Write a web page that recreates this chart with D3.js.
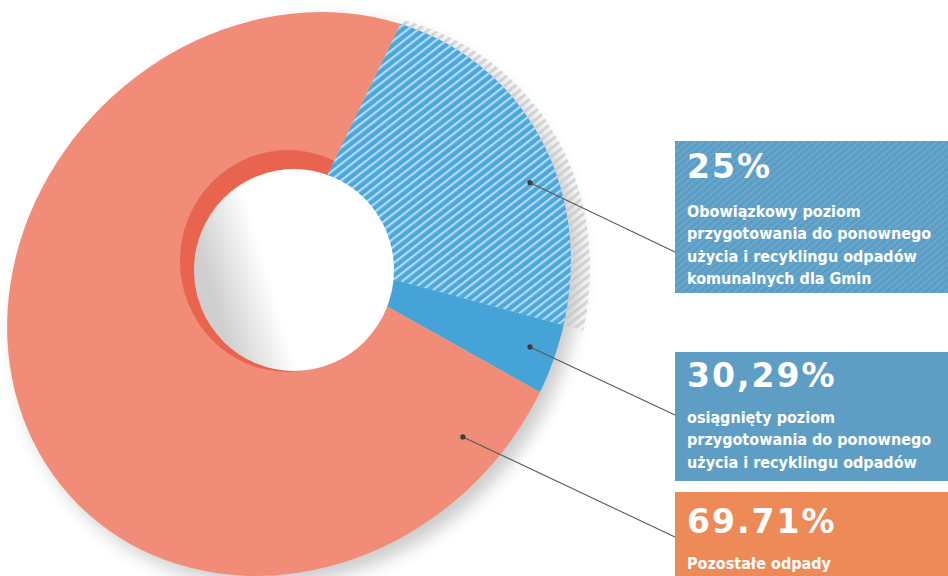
<!DOCTYPE html>
<html><head><meta charset="utf-8">
<script src="https://cdn.jsdelivr.net/npm/d3@7"></script>
<style>html,body{margin:0;padding:0;background:#fff;} svg{display:block;}</style>
</head><body>
<svg id="chart" width="948" height="576"></svg>
<script>
// ---------- data ----------
const categories = ["Obowiązkowy poziom", "Osiągnięty ponad obowiązkowy", "Pozostałe odpady"];
const sliceValues = [25, 5.29, 69.71];
const labelValues = ["25%", "30,29%", "69.71%"];
const labelLines = [
  ["Obowiązkowy poziom", "przygotowania do ponownego", "użycia i recyklingu odpadów", "komunalnych dla Gmin"],
  ["osiągnięty poziom", "przygotowania do ponownego", "użycia i recyklingu odpadów"],
  ["Pozostałe odpady"]
];

// ---------- layout ----------
const W = 948, H = 576;
// outer rim ellipse
const cx = 289, cy = 294, R = 280, SX = 1.064, SY = 0.946;
// perspective-ish centre of the wedges
const px = 290, py = 252, KW = 0.68, AX = 5;
const startDeg = 19.5;
const sliceFill = ["url(#hatchBlueW)", "#46a3d8", "#f08c78"];
const wallFill = ["url(#hatchBlueW)", "#46a3d8", "#e9644f"];
const boxes = [
  {x: 675, y: 141, h: 152, fill: "url(#hatchBox)", anchor: 111, bigY: 178, lineY: 217},
  {x: 675, y: 352, h: 129, fill: "#5f9ec4", anchor: 63, bigY: 387, lineY: 423},
  {x: 675, y: 492, h: 90, fill: "#ee8a57", anchor: 45, bigY: 533, lineY: 569}
];
const dotFrac = [0.51, 0.48, 0.077];
const dotRad = [268, 270, 312];

const svg = d3.select("#chart");
const defs = svg.append("defs");

const wedgeT = `translate(${px},${py}) rotate(${AX}) scale(1,${KW}) rotate(${-AX})`;
const wedgeInv = `rotate(${AX}) scale(1,${1 / KW}) rotate(${-AX})`;
const ellT = `translate(${cx},${cy}) rotate(-45) scale(${SX},${SY}) rotate(45)`;

function stripes(id, base, stroke, size, sw, transform) {
  const p = defs.append("pattern").attr("id", id).attr("patternUnits", "userSpaceOnUse")
    .attr("width", size).attr("height", size).attr("patternTransform", transform);
  if (base) p.append("rect").attr("width", size).attr("height", size).attr("fill", base);
  p.append("rect").attr("y", 0).attr("width", size).attr("height", sw).attr("fill", stroke);
}
stripes("hatchBlueW", "#4aa7dc", "#b3daf1", 6.5, 2.2, wedgeInv + " rotate(-38)");
stripes("hatchShadowW", null, "#c6c6c6", 6.5, 2.4, wedgeInv + " rotate(-38)");
stripes("hatchBox", "#5c9dc4", "#6eaad0", 5, 1.4, "rotate(-40)");

const blur = defs.append("filter").attr("id", "blur").attr("x", "-20%").attr("y", "-20%").attr("width", "140%").attr("height", "140%");
blur.append("feGaussianBlur").attr("stdDeviation", 9);
const blur2 = defs.append("filter").attr("id", "blur2");
blur2.append("feGaussianBlur").attr("stdDeviation", 1.1);

const holeGrad = defs.append("linearGradient").attr("id", "holeGrad").attr("x1", 0).attr("x2", 1).attr("y1", 0.3).attr("y2", 0);
holeGrad.append("stop").attr("offset", 0).attr("stop-color", "#cfcfcf");
holeGrad.append("stop").attr("offset", 0.28).attr("stop-color", "#ffffff");
holeGrad.append("stop").attr("offset", 1).attr("stop-color", "#ffffff");

const fullCircle = d3.arc().innerRadius(0).outerRadius(R)({startAngle: 0, endAngle: 2 * Math.PI});
defs.append("clipPath").attr("id", "outerClip")
  .append("path").attr("d", fullCircle).attr("transform", ellT);
defs.append("clipPath").attr("id", "shadowClip")
  .append("path").attr("d", d3.arc().innerRadius(0).outerRadius(R + 9)({startAngle: 0, endAngle: 2 * Math.PI}))
  .attr("transform", "translate(10,8) " + ellT);
defs.append("clipPath").attr("id", "wallClip")
  .append("ellipse").attr("cx", 288).attr("cy", 261).attr("rx", 108).attr("ry", 111);

const pie = d3.pie().sort(null)
  .startAngle(startDeg * Math.PI / 180)
  .endAngle(startDeg * Math.PI / 180 + 2 * Math.PI);
const arcs = pie(sliceValues);
const wedge = d3.arc().innerRadius(0).outerRadius(700);

function wedgeProject([x, y]) {
  const a = AX * Math.PI / 180, c = Math.cos(a), s = Math.sin(a);
  let x1 = x * c + y * s, y1 = -x * s + y * c;
  y1 *= KW;
  return [px + x1 * c - y1 * s, py + x1 * s + y1 * c];
}

// soft shadow
svg.append("path").attr("d", fullCircle).attr("transform", "translate(9,9) " + ellT)
  .attr("fill", "#000").attr("opacity", 0.2).attr("filter", "url(#blur)");

// hatched shadow beside the striped slice
svg.append("g").attr("clip-path", "url(#shadowClip)")
  .append("g").attr("transform", wedgeT)
  .append("path").attr("d", wedge(arcs[0]))
  .attr("fill", "url(#hatchShadowW)").attr("filter", "url(#blur2)");

// top face
svg.append("g").attr("clip-path", "url(#outerClip)")
  .append("g").attr("transform", wedgeT)
  .selectAll("path").data(arcs).join("path")
  .attr("d", wedge)
  .attr("fill", (d, i) => sliceFill[i]);

// inner wall
svg.append("g").attr("clip-path", "url(#wallClip)")
  .append("g").attr("transform", wedgeT)
  .selectAll("path").data(arcs).join("path")
  .attr("d", wedge)
  .attr("fill", (d, i) => wallFill[i]);

// hole
svg.append("ellipse").attr("cx", 294).attr("cy", 270).attr("rx", 100).attr("ry", 101)
  .attr("fill", "url(#holeGrad)");

// label boxes
const lab = svg.append("g");
boxes.forEach((b, i) => {
  lab.append("rect").attr("x", b.x).attr("y", b.y).attr("width", W - b.x).attr("height", b.h).attr("fill", b.fill);
  lab.append("text").attr("x", 687).attr("y", b.bigY).text(labelValues[i])
    .attr("fill", "#fff").attr("font-family", "'DejaVu Sans', sans-serif").attr("font-weight", "bold")
    .attr("font-size", 33).attr("letter-spacing", 2);
  labelLines[i].forEach((t, j) => {
    lab.append("text").attr("x", 687).attr("y", b.lineY + j * 22.3).text(t)
      .attr("fill", "#fff").attr("font-family", "'DejaVu Sans Condensed', 'Liberation Sans Narrow', sans-serif")
      .attr("font-weight", "bold").attr("font-size", 16);
  });
});

// leader lines + dots
arcs.forEach((d, i) => {
  const a = d.startAngle + dotFrac[i] * (d.endAngle - d.startAngle);
  const p = wedgeProject(d3.arc().innerRadius(dotRad[i]).outerRadius(dotRad[i]).startAngle(a).endAngle(a).centroid());
  const b = boxes[i];
  svg.append("line").attr("x1", p[0]).attr("y1", p[1]).attr("x2", b.x).attr("y2", b.y + b.anchor)
    .attr("stroke", "#5a5a5a").attr("stroke-width", 1.1);
  svg.append("circle").attr("cx", p[0]).attr("cy", p[1]).attr("r", 2.6).attr("fill", "#3d3d3d");
});
</script>
</body></html>
